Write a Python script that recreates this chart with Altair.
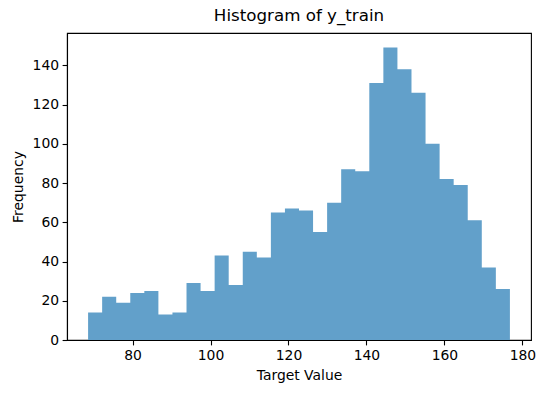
import altair as alt
import numpy as np
import pandas as pd

# Histogram counts (30 equal-width bins)
counts = [14, 22, 19, 24, 25, 13, 14, 29, 25, 43,
          28, 45, 42, 65, 67, 66, 55, 70, 87, 86,
          131, 149, 138, 126, 100, 82, 79, 61, 37, 26]
bin_min = 68.6
bin_max = 176.8
x_ticks = [80, 100, 120, 140, 160, 180]
y_ticks = [0, 20, 40, 60, 80, 100, 120, 140]

edges = np.linspace(bin_min, bin_max, len(counts) + 1)
# step outline: each bin start holds its count; the last edge closes the final bin
df = pd.DataFrame({"edge": [float(e) for e in edges],
                   "count": counts + [counts[-1]]})

pad_x = (bin_max - bin_min) * 0.05
x_dom = [bin_min - pad_x, bin_max + pad_x]
y_dom = [0, max(counts) * 1.05]

FONT = "DejaVu Sans"
BAR = "#62a0ca"

chart = alt.Chart(df).mark_area(color=BAR, interpolate="step-after").encode(
    x=alt.X("edge:Q", scale=alt.Scale(domain=x_dom, nice=False, zero=False),
            axis=alt.Axis(values=x_ticks, title="Target Value", grid=False,
                          tickSize=4.9, labelPadding=3.5, titlePadding=6,
                          labelFlush=False)),
    y=alt.Y("count:Q", stack=None, scale=alt.Scale(domain=y_dom, nice=False),
            axis=alt.Axis(values=y_ticks, title="Frequency", grid=False,
                          tickSize=4.9, labelPadding=3.5, titlePadding=7,
                          labelFlush=False)),
).properties(
    width=464, height=307,
    background="white",
    title=alt.TitleParams("Histogram of y_train", fontSize=16.7, font=FONT,
                          fontWeight="normal", color="black", offset=8,
                          anchor="middle"),
    autosize=alt.AutoSizeParams(type="none"),
    padding={"left": 67, "top": 33, "right": 14, "bottom": 53},
).configure_view(
    stroke="black", strokeWidth=1.1
).configure_axis(
    domainColor="black", domainWidth=1.1, tickColor="black", tickWidth=1.1,
    labelFont=FONT, labelFontSize=13.9, labelColor="black",
    titleFont=FONT, titleFontSize=13.9, titleColor="black", titleFontWeight="normal",
)

chart.save("out.html", embed_options={"renderer": "svg", "actions": False})
